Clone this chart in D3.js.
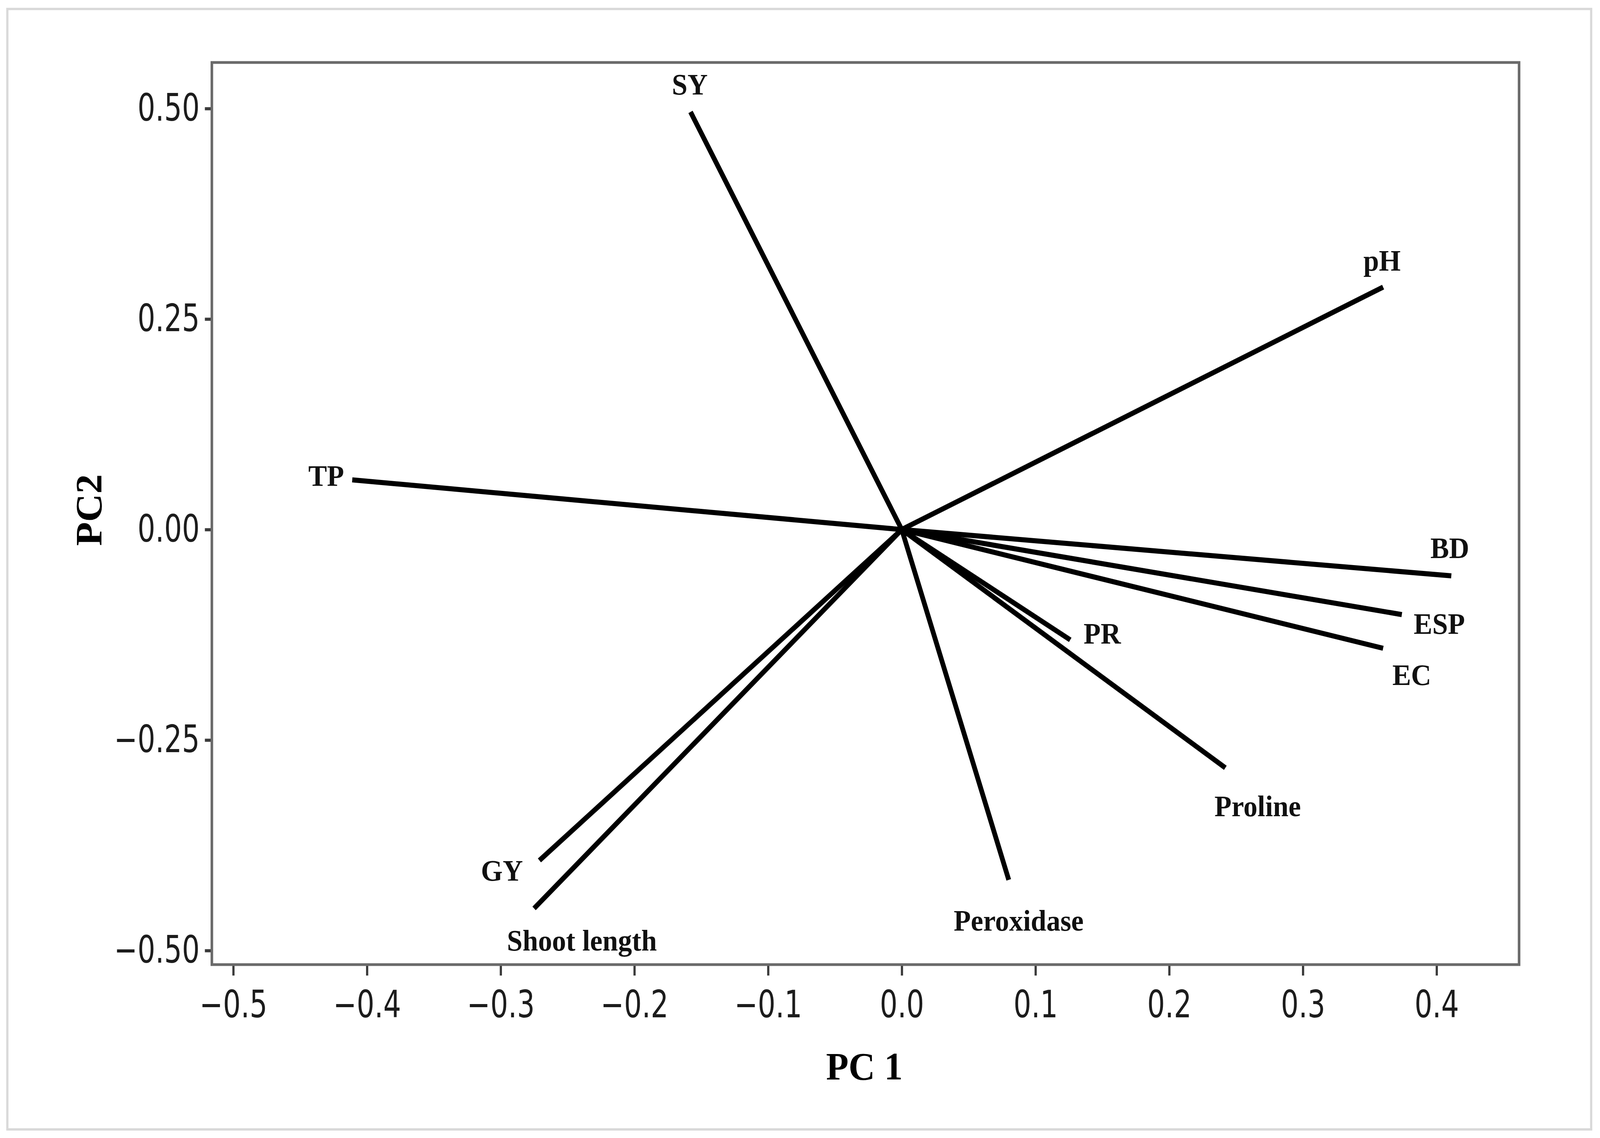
<!DOCTYPE html>
<html>
<head>
<meta charset="utf-8">
<script src="https://cdn.jsdelivr.net/npm/d3@7"></script>
<style>
  html, body { margin: 0; padding: 0; overflow: hidden; background: #fff; }
  svg { display: block; }
</style>
</head>
<body>
<div id="chart"></div>
<script>
// loadings (PC1, PC2)
var variables = ["SY", "pH", "TP", "BD", "ESP", "EC", "PR", "Proline", "Peroxidase", "GY", "Shoot length"];
var pc1 = [-0.158, 0.360, -0.411, 0.411, 0.374, 0.360, 0.126, 0.242, 0.080, -0.271, -0.275];
var pc2 = [0.496, 0.288, 0.059, -0.055, -0.101, -0.141, -0.131, -0.283, -0.416, -0.393, -0.450];

var xTicks = [-0.5, -0.4, -0.3, -0.2, -0.1, 0.0, 0.1, 0.2, 0.3, 0.4];
var yTicks = [-0.50, -0.25, 0.00, 0.25, 0.50];

// where each label sits relative to the end of its line (px)
var labelOffset = [
  [-2, -68], [-3, -66], [-71, -8], [-4, -69], [102, 26], [78, 70],
  [87, -14], [88, 100], [27, 107], [-102, 28], [130, 84]
];

draw();

function draw() {
  var w = 4350, h = 2914;
  var left = 576, right = 4130, top = 160, bottom = 2470;
  var squeeze = 0.88; // tick labels are a narrow face in the original

  // fill the window whatever its inner size is
  var svg = d3.select("#chart").append("svg")
    .attr("viewBox", "0 0 " + w + " " + h)
    .attr("preserveAspectRatio", "none")
    .style("width", "100vw")
    .style("height", "100vh");

  svg.append("rect")
    .attr("width", w).attr("height", h)
    .attr("fill", "#fff");

  // light outer border of the figure
  svg.append("rect")
    .attr("x", 20).attr("y", 23)
    .attr("width", 4306).attr("height", 2869)
    .attr("fill", "none")
    .attr("stroke", "#d9d9d9")
    .attr("stroke-width", 6);

  var x = d3.scaleLinear().domain([-0.516, 0.4617]).range([left, right]);
  var y = d3.scaleLinear().domain([-0.5167, 0.5547]).range([bottom, top]);

  var tickFont = "'Liberation Sans Narrow', 'DejaVu Sans Condensed', 'Arial Narrow', sans-serif";
  var serif = "'Liberation Serif', 'Times New Roman', serif";

  var xAxis = svg.append("g")
    .attr("transform", "translate(0," + bottom + ")")
    .call(d3.axisBottom(x)
      .tickValues(xTicks)
      .tickFormat(d3.format(".1f"))
      .tickSize(28)
      .tickSizeOuter(0)
      .tickPadding(39));

  var yAxis = svg.append("g")
    .attr("transform", "translate(" + left + ",0)")
    .call(d3.axisLeft(y)
      .tickValues(yTicks)
      .tickFormat(d3.format(".2f"))
      .tickSize(19)
      .tickSizeOuter(0)
      .tickPadding(14));

  [xAxis, yAxis].forEach(function(g) {
    g.select(".domain").remove();
    g.selectAll("text")
      .style("font-family", tickFont)
      .style("font-size", "96px")
      .attr("fill", "#1c1c1c")
      .attr("x", function() { return +d3.select(this).attr("x") / squeeze; })
      .attr("transform", "scale(" + squeeze + ",1)");
  });
  xAxis.selectAll("line").attr("stroke", "#3a3a3a").attr("stroke-width", 6);
  yAxis.selectAll("line").attr("stroke", "#3a3a3a").attr("stroke-width", 8);

  // plot frame
  svg.append("rect")
    .attr("x", left).attr("y", top)
    .attr("width", right - left).attr("height", bottom - top)
    .attr("fill", "none")
    .attr("stroke", "#6a6a6a")
    .attr("stroke-width", 7);

  var rows = variables.map(function(v, i) {
    return { name: v, a: pc1[i], b: pc2[i], off: labelOffset[i] };
  });

  svg.append("g").selectAll("line")
    .data(rows)
    .join("line")
    .attr("x1", x(0)).attr("y1", y(0))
    .attr("x2", function(d) { return x(d.a); })
    .attr("y2", function(d) { return y(d.b); })
    .attr("stroke", "#000")
    .attr("stroke-width", 13);

  svg.append("g").selectAll("text")
    .data(rows)
    .join("text")
    .attr("x", function(d) { return x(d.a) + d.off[0]; })
    .attr("y", function(d) { return y(d.b) + d.off[1]; })
    .attr("dy", "0.31em")
    .attr("text-anchor", "middle")
    .style("font-family", serif)
    .style("font-weight", "bold")
    .style("font-size", "76px")
    .attr("fill", "#111")
    .text(function(d) { return d.name; });

  // axis titles
  svg.append("text")
    .attr("x", 2350).attr("y", 2764)
    .attr("text-anchor", "middle")
    .style("font-family", serif)
    .style("font-weight", "bold")
    .style("font-size", "100px")
    .text("PC 1");

  svg.append("text")
    .attr("transform", "translate(276,1306) rotate(-90)")
    .attr("text-anchor", "middle")
    .style("font-family", serif)
    .style("font-weight", "bold")
    .style("font-size", "100px")
    .text("PC2");
}
</script>
</body>
</html>
